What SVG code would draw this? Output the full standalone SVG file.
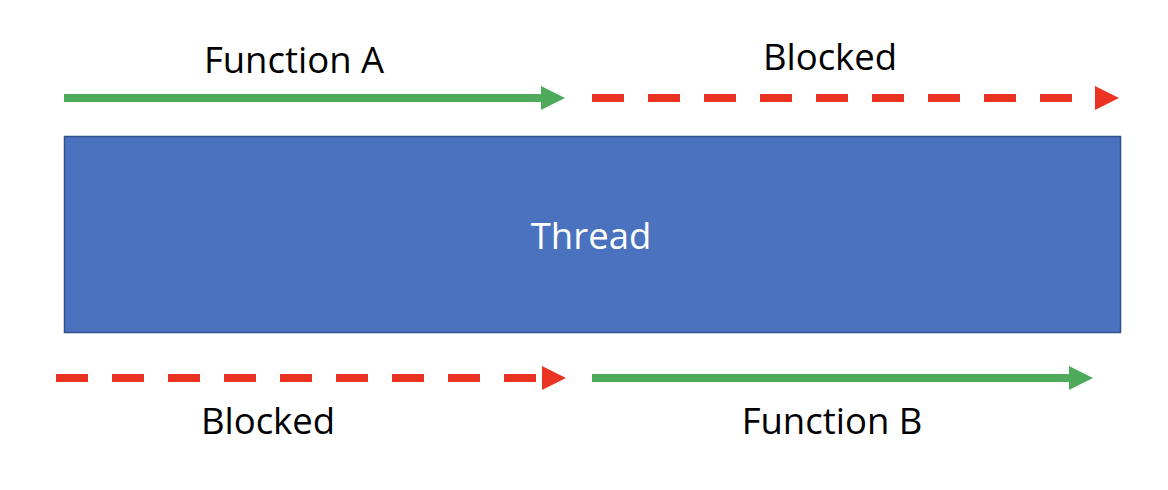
<svg xmlns="http://www.w3.org/2000/svg" width="1168" height="490" viewBox="0 0 1168 490">
<style>
.lbl{font-family:"Open Sans","Noto Sans","Liberation Sans",sans-serif;font-size:36.5px;fill:#000;text-anchor:middle}
.thr{fill:#fff}
.green{stroke:#4EAB5C;stroke-width:8;fill:none}
.red{stroke:#EA3323;stroke-width:8;fill:none;stroke-dasharray:32 24}
.gh{fill:#4EAB5C}
.rh{fill:#EA3323}
</style>
<rect width="1168" height="490" fill="#fff"/>
<g id="thread">
<rect x="64.5" y="136.5" width="1056" height="196" fill="#4A72BE" stroke="#2F528F" stroke-width="1.5"/>
<text class="lbl thr" x="591" y="249">Thread</text>
</g>
<g id="label-function-a"><text class="lbl" x="294" y="73">Function A</text></g>
<g id="label-blocked-top"><text class="lbl" x="830" y="70">Blocked</text></g>
<g id="label-blocked-bottom"><text class="lbl" x="268" y="434">Blocked</text></g>
<g id="label-function-b"><text class="lbl" x="832" y="434">Function B</text></g>
<g id="connectors">
<line class="green" x1="64" y1="98" x2="542" y2="98"/>
<polygon class="gh" points="541,86 565,98 541,110"/>
<line class="red" x1="592" y1="98" x2="1072" y2="98"/>
<polygon class="rh" points="1095,86 1119,98 1095,110"/>
<line class="red" x1="56" y1="378" x2="536" y2="378"/>
<polygon class="rh" points="542,366 566,378 542,390"/>
<line class="green" x1="592" y1="378" x2="1070" y2="378"/>
<polygon class="gh" points="1069,366 1093,378 1069,390"/>
</g>
</svg>
